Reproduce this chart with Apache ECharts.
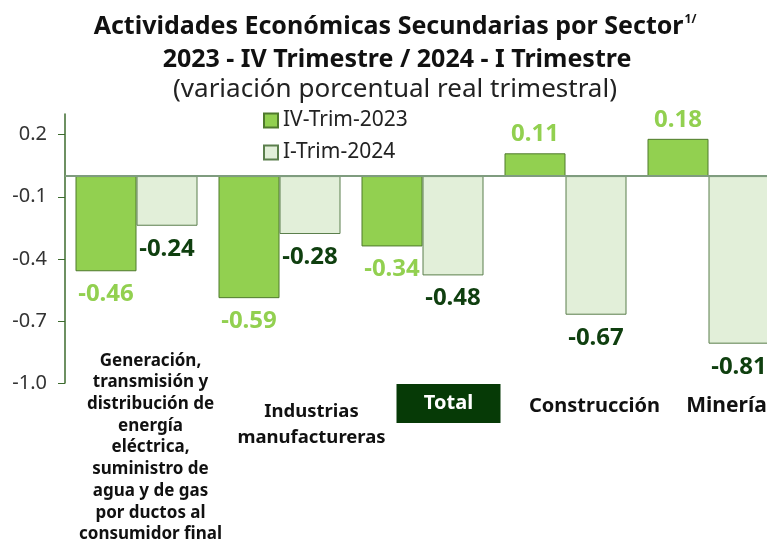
<!DOCTYPE html>
<html>
<head>
<meta charset="utf-8">
<script src="https://cdn.jsdelivr.net/npm/echarts@6/dist/echarts.min.js"></script>
<style>
  html, body { margin: 0; padding: 0; background: #fff; }
  #chart { width: 767px; height: 539px; }
</style>
</head>
<body>
<div id="chart"></div>
<script>
// sectores (etiquetas del eje x)
const categories = [
  'Generación,\ntransmisión y\ndistribución de\nenergía\neléctrica,\nsuministro de\nagua y de gas\npor ductos al\nconsumidor final',
  'Industrias\nmanufactureras',
  'Total',
  'Construcción',
  'Minería'
];
const seriesNames = ['IV-Trim-2023', 'I-Trim-2024'];
const trim2023 = [-0.46, -0.59, -0.34, 0.11, 0.18];
const trim2024 = [-0.24, -0.28, -0.48, -0.67, -0.81];
const yTicks = [-1.0, -0.7, -0.4, -0.1, 0.2];

const FONT = '"Noto Sans", sans-serif';
const chart = echarts.init(document.getElementById('chart'));

// etiqueta arriba si es positivo, abajo si es negativo
const withLabels = (vals) => vals.map(v => ({
  value: v,
  label: v >= 0 ? { position: 'top', distance: 7 } : { position: 'bottom', distance: 11 }
}));

// cada sector tiene su propio estilo/posición de etiqueta
const catFormatter = (value, idx) => {
  const lines = value.split('\n');
  if (idx === 0) return lines.map(l => `{g|${l}}`).join('\n');
  if (idx === 1) return `{gap| }\n` + lines.map(l => `{i|${l}}`).join('\n');
  if (idx === 2) return `{sp| }{tot|${value}}`;
  if (idx === 3) return `{c|${value}}`;
  return `{m|${value}}`;
};

const labelBase = { fontFamily: FONT, fontWeight: 'bold', fontSize: 17, color: '#111' };

const option = {
  backgroundColor: '#ffffff',
  animation: false,
  title: [
    {
      text: '{b|Actividades Económicas Secundarias por Sector}{s|1/}',
      left: 395, top: 14, padding: 0, textAlign: 'center',
      textStyle: {
        rich: {
          b: { fontFamily: FONT, fontWeight: 'bold', fontSize: 25, color: '#111' },
          s: { fontFamily: FONT, fontWeight: 'bold', fontSize: 12, color: '#111', verticalAlign: 'top', padding: [0, 0, 10, 1] }
        }
      }
    },
    {
      text: '2023 - IV Trimestre / 2024 - I Trimestre',
      left: 397, top: 47, padding: 0, textAlign: 'center',
      textStyle: { fontFamily: FONT, fontWeight: 'bold', fontSize: 25, color: '#111' }
    },
    {
      text: '(variación porcentual real trimestral)',
      left: 395, top: 77, padding: 0, textAlign: 'center',
      textStyle: { fontFamily: FONT, fontWeight: 'normal', fontSize: 26, color: '#222' }
    }
  ],
  legend: {
    orient: 'vertical',
    left: 258, top: 105,
    itemWidth: 14, itemHeight: 14, itemGap: 11,
    icon: 'rect',
    textStyle: { fontFamily: FONT, fontSize: 21, color: '#222' },
    data: seriesNames
  },
  grid: { left: 65, width: 715, top: 114, bottom: 156, outerBoundsMode: 'none', containLabel: false },
  xAxis: {
    type: 'category',
    data: categories,
    axisLine: { show: false, onZero: false },
    axisTick: { show: false },
    axisLabel: {
      interval: 0,
      margin: -33,
      verticalAlign: 'top',
      formatter: catFormatter,
      rich: {
        g: { ...labelBase, lineHeight: 21.7, padding: [0, 0, 0, 28] },
        gap: { fontSize: 10, lineHeight: 48 },
        i: { ...labelBase, fontSize: 18.5, lineHeight: 26.6, padding: [0, 0, 0, 64] },
        sp: { fontSize: 10, width: 52 },
        tot: { ...labelBase, fontSize: 20, color: '#ffffff', backgroundColor: '#063a06', width: 104, height: 39, align: 'center', lineHeight: 107 },
        c: { ...labelBase, fontSize: 20, padding: [0, 0, 0, 58], lineHeight: 112 },
        m: { ...labelBase, fontSize: 21, padding: [0, 0, 0, 36], lineHeight: 112 }
      }
    }
  },
  yAxis: {
    type: 'value',
    min: -1.0, max: 0.3,
    axisLine: { show: true, lineStyle: { color: '#3d6b2e', width: 1.5 } },
    axisTick: { show: true, length: 7, customValues: yTicks, lineStyle: { color: '#3d6b2e' } },
    axisLabel: {
      customValues: yTicks,
      margin: 18,
      fontFamily: FONT, fontSize: 20, color: '#333',
      formatter: v => v.toFixed(1)
    },
    splitLine: { show: false }
  },
  series: [
    {
      name: seriesNames[0],
      type: 'bar',
      data: withLabels(trim2023),
      barWidth: 61,
      barGap: '0%',
      itemStyle: { color: '#92d050', borderColor: '#4f7a2c', borderWidth: 1 },
      label: {
        show: true,
        fontFamily: FONT, fontWeight: 'bold', fontSize: 24, color: '#92d050',
        formatter: p => p.value.toFixed(2)
      },
      markLine: {
        silent: true,
        symbol: 'none',
        label: { show: false },
        lineStyle: { type: 'solid', color: '#7f9c7f', width: 2 },
        data: [{ yAxis: 0 }]
      }
    },
    {
      name: seriesNames[1],
      type: 'bar',
      data: withLabels(trim2024),
      barWidth: 61,
      itemStyle: { color: '#e2efd9', borderColor: '#5b7f4c', borderWidth: 1 },
      label: {
        show: true,
        fontFamily: FONT, fontWeight: 'bold', fontSize: 24, color: '#0f3f0f',
        formatter: p => p.value.toFixed(2)
      }
    }
  ]
};

chart.setOption(option);
</script>
</body>
</html>
